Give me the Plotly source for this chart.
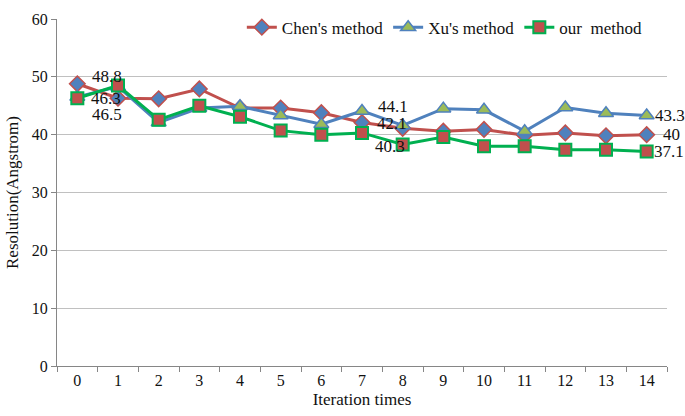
import plotly.graph_objects as go

iterations = [str(i) for i in range(15)]
chen = [48.8, 46.3, 46.2, 47.9, 44.6, 44.6, 43.8, 42.1, 41.1, 40.6, 40.9, 39.9, 40.3, 39.8, 40.0]
xu = [46.5, 48.3, 42.1, 44.6, 44.9, 43.3, 41.8, 44.1, 41.6, 44.5, 44.3, 40.6, 44.7, 43.7, 43.3]
ours = [46.3, 48.5, 42.6, 45.0, 43.1, 40.7, 40.0, 40.3, 38.3, 39.6, 38.0, 38.0, 37.4, 37.4, 37.1]

RED = "#C0504D"
BLUE = "#4F81BD"
OLIVE = "#9BBB59"
GREEN = "#00B050"
FONT = "Liberation Serif"

fig = go.Figure()
fig.add_trace(go.Scatter(
    x=iterations, y=chen, name="Chen's method", mode="lines+markers",
    line=dict(color=RED, width=3),
    marker=dict(symbol="diamond", size=12, color=BLUE, line=dict(color=RED, width=1.5)),
    cliponaxis=False))
fig.add_trace(go.Scatter(
    x=iterations, y=xu, name="Xu's method", mode="lines+markers",
    line=dict(color=BLUE, width=3),
    marker=dict(symbol="triangle-up", size=13, color=OLIVE, line=dict(color=BLUE, width=1.5)),
    cliponaxis=False))
fig.add_trace(go.Scatter(
    x=iterations, y=ours, name="our  method", mode="lines+markers",
    line=dict(color=GREEN, width=3),
    marker=dict(symbol="square", size=12, color=RED, line=dict(color=GREEN, width=2)),
    cliponaxis=False))

# data labels: (series, index, xshift, yshift)
labels = [
    (chen, 0, 30, 7), (ours, 0, 29, 0), (xu, 0, 30, -17),
    (xu, 7, 31, 4), (chen, 7, 30, -1), (ours, 7, 28, -14),
    (xu, 14, 23, 0), (chen, 14, 25, 0), (ours, 14, 22, 0),
]
for series, i, dx, dy in labels:
    v = series[i]
    txt = f"{v:g}"
    fig.add_annotation(x=iterations[i], y=v, text=txt, showarrow=False,
                       xshift=dx, yshift=dy,
                       font=dict(family=FONT, size=17, color="#111"))

fig.update_layout(
    width=685, height=416,
    margin=dict(l=57, r=18, t=10, b=50),
    paper_bgcolor="white", plot_bgcolor="white",
    font=dict(family=FONT, size=16, color="#111"),
    showlegend=True,
    legend=dict(orientation="h", x=0.303, y=0.975, xanchor="left", yanchor="middle",
                bgcolor="rgba(0,0,0,0)", font=dict(family=FONT, size=17),
                itemwidth=30, tracegroupgap=0),
)
fig.update_xaxes(
    type="category", range=[-0.5, 14.5],
    showline=True, linecolor="#868686", linewidth=1,
    ticks="outside", tickson="boundaries", ticklen=5, tickcolor="#868686",
    showgrid=False, tickfont=dict(family=FONT, size=16),
    title=dict(text="Iteration times", font=dict(family=FONT, size=17), standoff=4),
)
fig.update_yaxes(
    range=[0, 60], dtick=10,
    showline=True, linecolor="#868686", linewidth=1,
    ticks="outside", ticklen=5, tickcolor="#868686",
    showgrid=True, gridcolor="#C0C0C0", gridwidth=1,
    zeroline=False, tickfont=dict(family=FONT, size=16),
    title=dict(text="Resolution(Angstrom)", font=dict(family=FONT, size=17), standoff=8),
)

fig.write_html("out.html", config={"displayModeBar": False},
               post_script="document.body.style.margin='0';document.body.style.overflow='hidden';")
